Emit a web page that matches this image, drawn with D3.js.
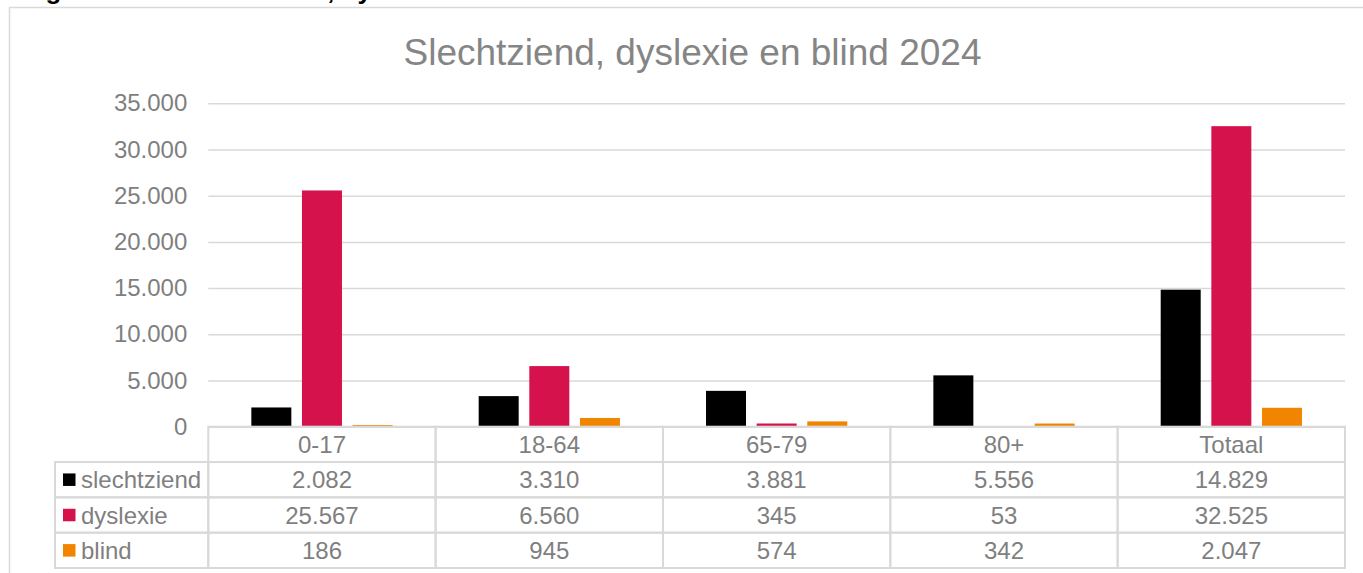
<!DOCTYPE html>
<html>
<head>
<meta charset="utf-8">
<script src="https://cdn.jsdelivr.net/npm/d3@7"></script>
<style>
  html, body { margin: 0; padding: 0; background: #ffffff; }
  svg { display: block; }
  text { font-family: "Liberation Sans", Arial, sans-serif; }
</style>
</head>
<body>
<svg id="chart" width="1363" height="573"></svg>
<script>
// ---- data ----
const categories = ["0-17", "18-64", "65-79", "80+", "Totaal"];
const seriesNames = ["slechtziend", "dyslexie", "blind"];
const slechtziend = [2082, 3310, 3881, 5556, 14829];
const dyslexie = [25567, 6560, 345, 53, 32525];
const blind = [186, 945, 574, 342, 2047];
const yTicks = [0, 5000, 10000, 15000, 20000, 25000, 30000, 35000];
const chartTitle = "Slechtziend, dyslexie en blind 2024";
const captionText = "Diagram 5.10: Slechtziend, dyslexie en blind 2024";

const seriesValues = { slechtziend, dyslexie, blind };
const colors = { slechtziend: "#000000", dyslexie: "#d5124b", blind: "#f28500" };

const textGray = "#7f7f7f";
const lineGray = "#d9d9d9";

const nl = d3.formatLocale({ decimal: ",", thousands: ".", grouping: [3], currency: ["€", ""] });
const fmt = nl.format(",");

const svg = d3.select("#chart");

// outer chart frame (extends beyond right/bottom edge)
svg.append("rect")
  .attr("x", 9.5).attr("y", 7.5)
  .attr("width", 1400).attr("height", 620)
  .attr("fill", "#ffffff")
  .attr("stroke", lineGray).attr("stroke-width", 1.5);

// cut-off caption above the chart (only descenders visible, as in the reference)
svg.append("text")
  .attr("x", 5).attr("y", -1)
  .attr("font-size", 26).attr("font-weight", "bold")
  .attr("fill", "#000000")
  .text(captionText);

// title
svg.append("text")
  .attr("x", 692.5).attr("y", 64.5)
  .attr("text-anchor", "middle")
  .attr("font-size", 37)
  .attr("fill", "#858585")
  .text(chartTitle);

// scales
const plotLeft = 208.3, plotRight = 1345;
const x = d3.scaleBand().domain(categories).range([plotLeft, plotRight]).padding(0);
const xInner = d3.scaleBand().domain(seriesNames).range([0, x.bandwidth()])
  .paddingInner(0.21).paddingOuter(0.85);
const y = d3.scaleLinear().domain([0, 35000]).range([426.7, 103.3]);

// gridlines + y labels
const yAxis = d3.axisLeft(y)
  .tickValues(yTicks)
  .tickSize(-(plotRight - plotLeft))
  .tickPadding(21)
  .tickFormat(d => fmt(d));

const gy = svg.append("g")
  .attr("transform", `translate(${plotLeft},0)`)
  .call(yAxis);
gy.select(".domain").remove();
gy.selectAll(".tick line").attr("stroke", lineGray).attr("stroke-width", 1.5);
gy.selectAll(".tick text")
  .attr("fill", textGray)
  .attr("font-size", 24)
  .attr("font-family", "'Liberation Sans', Arial, sans-serif");

// bars
const barData = [];
seriesNames.forEach(s => {
  categories.forEach((c, i) => barData.push({ series: s, cat: c, value: seriesValues[s][i] }));
});
svg.append("g").selectAll("rect")
  .data(barData)
  .join("rect")
  .attr("x", d => x(d.cat) + xInner(d.series))
  .attr("width", xInner.bandwidth())
  .attr("y", d => y(d.value))
  .attr("height", d => y(0) - y(d.value))
  .attr("fill", d => colors[d.series]);

// data table
const tableTop = y(0), tableBottom = 568;
const legendLeft = 55;
const rows = ["header"].concat(seriesNames);
const rowScale = d3.scaleBand().domain(rows).range([tableTop, tableBottom]);
const rh = rowScale.bandwidth();

const table = svg.append("g");

// header cells
table.selectAll("rect.hcell")
  .data(categories)
  .join("rect")
  .attr("class", "hcell")
  .attr("x", d => x(d)).attr("y", rowScale("header"))
  .attr("width", x.bandwidth()).attr("height", rh)
  .attr("fill", "none").attr("stroke", lineGray).attr("stroke-width", 2);

table.selectAll("text.htext")
  .data(categories)
  .join("text")
  .attr("class", "htext")
  .attr("x", d => x(d) + x.bandwidth() / 2)
  .attr("y", rowScale("header") + rh / 2 + 8.6)
  .attr("text-anchor", "middle")
  .attr("font-size", 24)
  .attr("fill", textGray)
  .text(d => d);

// series rows
seriesNames.forEach(s => {
  const ry = rowScale(s);
  // legend cell
  table.append("rect")
    .attr("x", legendLeft).attr("y", ry)
    .attr("width", plotLeft - legendLeft).attr("height", rh)
    .attr("fill", "none").attr("stroke", lineGray).attr("stroke-width", 2);
  table.append("rect")
    .attr("x", 63).attr("y", ry + rh / 2 - 6.25)
    .attr("width", 12.5).attr("height", 12.5)
    .attr("fill", colors[s]);
  table.append("text")
    .attr("x", 81).attr("y", ry + rh / 2 + 8.6)
    .attr("font-size", 24)
    .attr("fill", textGray)
    .text(s);
  // value cells
  categories.forEach((c, i) => {
    table.append("rect")
      .attr("x", x(c)).attr("y", ry)
      .attr("width", x.bandwidth()).attr("height", rh)
      .attr("fill", "none").attr("stroke", lineGray).attr("stroke-width", 2);
    table.append("text")
      .attr("x", x(c) + x.bandwidth() / 2)
      .attr("y", ry + rh / 2 + 8.6)
      .attr("text-anchor", "middle")
      .attr("font-size", 24)
      .attr("fill", textGray)
      .text(fmt(seriesValues[s][i]));
  });
});
</script>
</body>
</html>
